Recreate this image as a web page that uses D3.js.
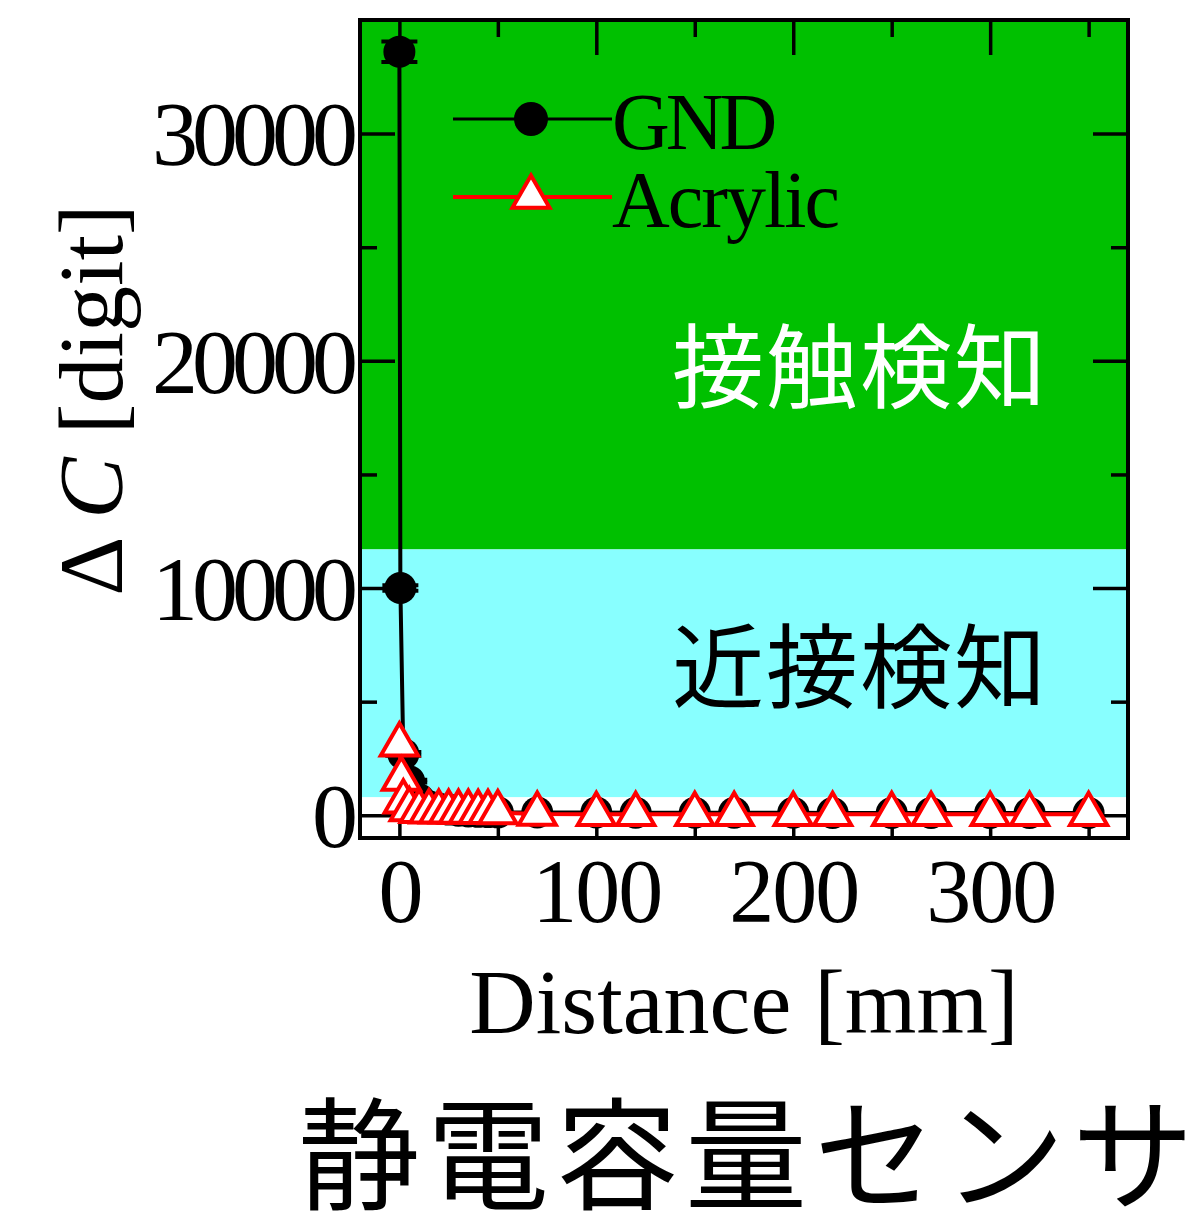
<!DOCTYPE html>
<html>
<head>
<meta charset="utf-8">
<script src="https://cdn.jsdelivr.net/npm/d3@7"></script>
<style>
  html, body { margin: 0; padding: 0; background: #ffffff; }
  svg { display: block; }
</style>
</head>
<body>
<svg id="chart" width="1192" height="1224"></svg>
<script>
// Capacitance change vs. distance for a grounded target and an acrylic target
const gndDistance = [0, 0.5, 2, 5, 10, 15, 20, 25, 30, 35, 40, 45, 50, 70, 100, 120, 150, 170, 200, 220, 250, 270, 300, 320, 350];
const gndDelta    = [33600, 10000, 2700, 1500, 700, 400, 300, 250, 200, 170, 150, 140, 130, 120, 120, 110, 110, 110, 110, 100, 100, 100, 100, 100, 100];
const gndError    = [450, 120, 80, 60, 40, 0, 0, 0, 0, 0, 0, 0, 0, 0, 0, 0, 0, 0, 0, 0, 0, 0, 0, 0, 0];

const acrylicDistance = [0, 1, 2, 5, 10, 15, 20, 25, 30, 35, 40, 45, 50, 70, 100, 120, 150, 170, 200, 220, 250, 270, 300, 320, 350];
const acrylicDelta    = [3100, 1600, 600, 250, 180, 160, 150, 150, 140, 140, 130, 130, 120, 60, 50, 50, 50, 50, 50, 50, 50, 50, 50, 50, 50];

// Detection zones on the ΔC axis
const zoneNames  = ["接触検知", "近接検知"];
const zoneBounds = [[11700, 35000], [800, 11700]];
const zoneColors = ["#00c000", "#88ffff"];
const zoneTextColors = ["#ffffff", "#000000"];

const xMajorTicks = [0, 100, 200, 300];
const xMinorTicks = [50, 150, 250, 350];
const yMajorTicks = [0, 10000, 20000, 30000];
const yMinorTicks = [5000, 15000, 25000];

const seriesNames = ["GND", "Acrylic"];
const xTitle = "Distance [mm]";
const caption = "静電容量センサ";

const svg = d3.select("#chart");
const plotLeft = 360, plotRight = 1128, plotTop = 20, plotBottom = 838;

const x = d3.scaleLinear().domain([-20, 370]).range([plotLeft, plotRight]);
const y = d3.scaleLinear().domain([-1000, 35000]).range([plotBottom, plotTop]);

const serif = "'Liberation Serif', 'Times New Roman', serif";
const cjk = "'Noto Sans CJK JP', 'Noto Sans CJK SC', sans-serif";

// zone backgrounds
svg.append("g").selectAll("rect").data(zoneBounds).join("rect")
  .attr("x", plotLeft).attr("width", plotRight - plotLeft)
  .attr("y", d => y(d[1])).attr("height", d => y(d[0]) - y(d[1]))
  .attr("fill", (d, i) => zoneColors[i]);

// zone labels
const zoneLabelY = [y(zoneBounds[0][0]) - 148, y(zoneBounds[1][0]) - 96];
svg.append("g").selectAll("text").data(zoneNames).join("text")
  .attr("x", 672).attr("y", (d, i) => zoneLabelY[i])
  .attr("font-family", cjk).attr("font-size", 92)
  .attr("letter-spacing", 2)
  .attr("fill", (d, i) => zoneTextColors[i])
  .text(d => d);

// axes with inward ticks on all four sides
function styleAxis(g) {
  g.select(".domain").remove();
  g.selectAll(".tick line").attr("stroke", "#000").attr("stroke-width", 3.5);
}
const axisFont = g => g.selectAll("text")
  .attr("font-family", serif).attr("fill", "#000");

svg.append("g").attr("transform", `translate(0,${plotBottom})`)
  .call(d3.axisBottom(x).tickValues(xMajorTicks).tickSize(-35).tickPadding(20).tickFormat(d3.format("d")))
  .call(styleAxis)
  .call(g => g.selectAll("text").attr("font-size", 90).attr("letter-spacing", -2))
  .call(axisFont);
svg.append("g").attr("transform", `translate(0,${plotBottom})`)
  .call(d3.axisBottom(x).tickValues(xMinorTicks).tickSize(-17).tickFormat(""))
  .call(styleAxis);
svg.append("g").attr("transform", `translate(0,${plotTop})`)
  .call(d3.axisTop(x).tickValues(xMajorTicks).tickSize(-35).tickFormat(""))
  .call(styleAxis);
svg.append("g").attr("transform", `translate(0,${plotTop})`)
  .call(d3.axisTop(x).tickValues(xMinorTicks).tickSize(-17).tickFormat(""))
  .call(styleAxis);

svg.append("g").attr("transform", `translate(${plotLeft},0)`)
  .call(d3.axisLeft(y).tickValues(yMajorTicks).tickSize(-35).tickPadding(8).tickFormat(d3.format("d")))
  .call(styleAxis)
  .call(g => g.selectAll("text").attr("font-size", 92).attr("letter-spacing", -6).attr("dy", "0.34em"))
  .call(axisFont);
svg.append("g").attr("transform", `translate(${plotLeft},0)`)
  .call(d3.axisLeft(y).tickValues(yMinorTicks).tickSize(-17).tickFormat(""))
  .call(styleAxis);
svg.append("g").attr("transform", `translate(${plotRight},0)`)
  .call(d3.axisRight(y).tickValues(yMajorTicks).tickSize(-35).tickFormat(""))
  .call(styleAxis);
svg.append("g").attr("transform", `translate(${plotRight},0)`)
  .call(d3.axisRight(y).tickValues(yMinorTicks).tickSize(-17).tickFormat(""))
  .call(styleAxis);

// frame
svg.append("rect")
  .attr("x", plotLeft).attr("y", plotTop).attr("width", plotRight - plotLeft).attr("height", plotBottom - plotTop)
  .attr("fill", "none").attr("stroke", "#000").attr("stroke-width", 4);

// GND series
const gnd = gndDistance.map((d, i) => ({ x: d, y: gndDelta[i], e: gndError[i] }));
const acrylic = acrylicDistance.map((d, i) => ({ x: d, y: acrylicDelta[i] }));
const line = d3.line().x(d => x(d.x)).y(d => y(d.y));

svg.append("path").datum(gnd).attr("d", line)
  .attr("fill", "none").attr("stroke", "#000").attr("stroke-width", 4);

const eb = svg.append("g").selectAll("g").data(gnd.filter(d => d.e > 0)).join("g")
  .attr("stroke", "#000").attr("stroke-width", 4);
eb.append("line").attr("x1", d => x(d.x)).attr("x2", d => x(d.x))
  .attr("y1", d => y(d.y + d.e)).attr("y2", d => y(d.y - d.e));
eb.append("line").attr("x1", d => x(d.x) - 18).attr("x2", d => x(d.x) + 18)
  .attr("y1", d => y(d.y + d.e)).attr("y2", d => y(d.y + d.e));
eb.append("line").attr("x1", d => x(d.x) - 18).attr("x2", d => x(d.x) + 18)
  .attr("y1", d => y(d.y - d.e)).attr("y2", d => y(d.y - d.e));

svg.append("g").selectAll("circle").data(gnd).join("circle")
  .attr("cx", d => x(d.x)).attr("cy", d => y(d.y)).attr("r", 16)
  .attr("fill", "#000");

// Acrylic series
svg.append("path").datum(acrylic).attr("d", line)
  .attr("fill", "none").attr("stroke", "#ff0000").attr("stroke-width", 4);

const tri = d3.symbol().type(d3.symbolTriangle).size(600);
svg.append("g").selectAll("path").data(acrylic).join("path")
  .attr("d", tri)
  .attr("transform", d => `translate(${x(d.x)},${y(d.y)})`)
  .attr("fill", "#ffffff").attr("stroke", "#ff0000").attr("stroke-width", 4)
  .attr("stroke-linejoin", "miter");

// legend
const legendRows = [119, 197];
const lg = svg.append("g");
lg.append("line").attr("x1", 453).attr("x2", 612).attr("y1", legendRows[0]).attr("y2", legendRows[0])
  .attr("stroke", "#000").attr("stroke-width", 3);
lg.append("circle").attr("cx", 531).attr("cy", legendRows[0]).attr("r", 17).attr("fill", "#000");
lg.append("line").attr("x1", 453).attr("x2", 612).attr("y1", legendRows[1]).attr("y2", legendRows[1])
  .attr("stroke", "#ff0000").attr("stroke-width", 4);
lg.append("path").attr("d", tri).attr("transform", `translate(531,${legendRows[1]})`)
  .attr("fill", "#fff").attr("stroke", "#ff0000").attr("stroke-width", 4);
lg.selectAll("text").data(seriesNames).join("text")
  .attr("x", 612).attr("y", (d, i) => legendRows[i] + 30)
  .attr("font-family", serif).attr("font-size", 80)
  .attr("letter-spacing", (d, i) => i === 0 ? -4 : -2)
  .attr("fill", "#000").text(d => d);

// axis titles
svg.append("text")
  .attr("x", (plotLeft + plotRight) / 2).attr("y", 1033)
  .attr("text-anchor", "middle")
  .attr("font-family", serif).attr("font-size", 92).attr("fill", "#000")
  .text(xTitle);

const yt = svg.append("text")
  .attr("transform", `translate(122,${(205 + 595) / 2}) rotate(-90)`)
  .attr("text-anchor", "middle")
  .attr("font-family", serif).attr("font-size", 92).attr("fill", "#000");
yt.append("tspan").text("Δ ");
yt.append("tspan").attr("font-style", "italic").text("C");
yt.append("tspan").text(" [digit]");

// caption
svg.append("text")
  .attr("x", 298).attr("y", 1200)
  .attr("font-family", cjk).attr("font-size", 122).attr("letter-spacing", 7)
  .attr("fill", "#000").text(caption);
</script>
</body>
</html>
